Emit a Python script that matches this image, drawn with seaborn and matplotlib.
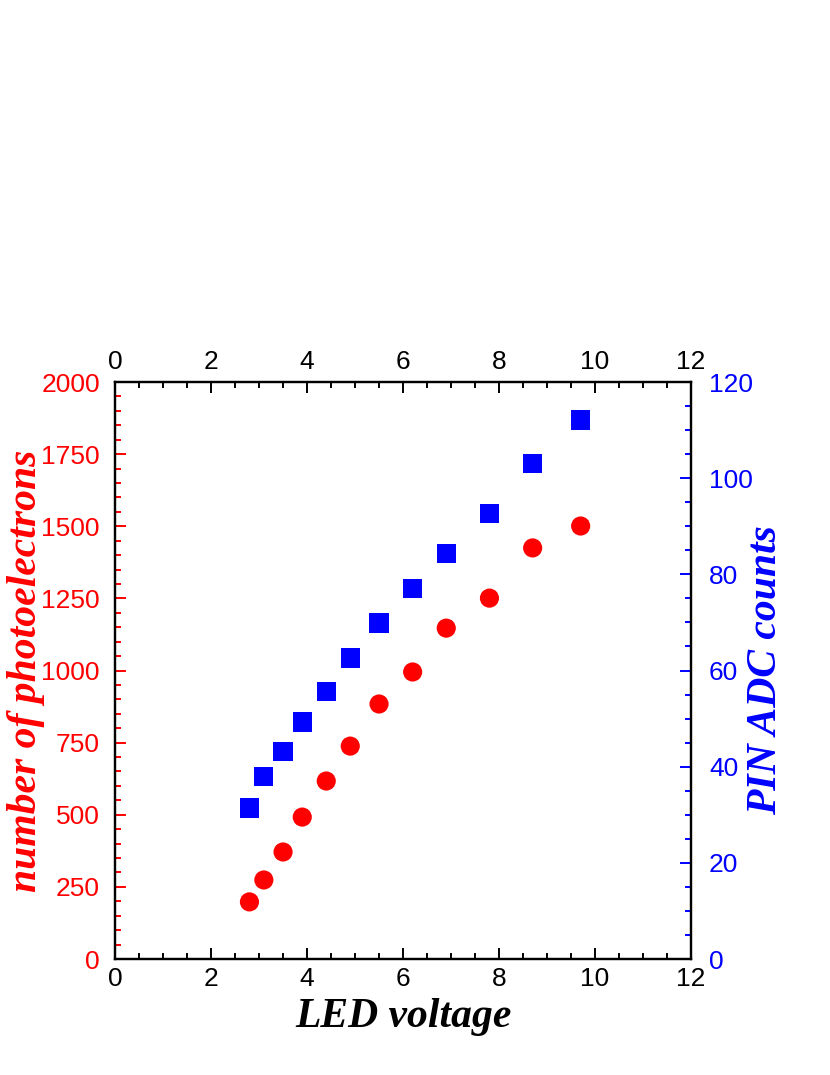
import matplotlib
matplotlib.use("Agg")
import matplotlib.pyplot as plt
from matplotlib.ticker import MultipleLocator
import seaborn as sns
import pandas as pd

# dados
led_voltage = [2.8, 3.1, 3.5, 3.9, 4.4, 4.9, 5.5, 6.2, 6.9, 7.8, 8.7, 9.7]
photoelectrons = [198, 274, 371, 492, 617, 738, 884, 995, 1147, 1251, 1425, 1501]
pin_adc = [31.4, 37.9, 43.1, 49.3, 55.7, 62.6, 69.9, 77.0, 84.4, 92.6, 103.0, 112.1]

df = pd.DataFrame({'LED': led_voltage, 'Npe': photoelectrons, 'PIN': pin_adc})

sns.set_style("white")
plt.rcParams['font.family'] = ['Liberation Sans', 'DejaVu Sans']

fig = plt.figure(figsize=(8.3, 10.75), dpi=100)
ax1 = fig.add_axes([0.1386, 0.1079, 0.6940, 0.5367])
ax2 = ax1.twinx()

sns.scatterplot(data=df, x='LED', y='Npe', ax=ax1, color='red', marker='o',
                s=190, edgecolor='none', zorder=3)
sns.scatterplot(data=df, x='LED', y='PIN', ax=ax2, color='blue', marker='s',
                s=190, edgecolor='none', zorder=3)

ax1.set_xlim(0, 12)
ax1.set_ylim(0, 2000)
ax2.set_ylim(0, 120)

ax1.xaxis.set_major_locator(MultipleLocator(2))
ax1.xaxis.set_minor_locator(MultipleLocator(0.5))
ax1.yaxis.set_major_locator(MultipleLocator(250))
ax1.yaxis.set_minor_locator(MultipleLocator(50))
ax2.yaxis.set_major_locator(MultipleLocator(20))
ax2.yaxis.set_minor_locator(MultipleLocator(5))

for ax in (ax1, ax2):
    for sp in ax.spines.values():
        sp.set_visible(True)
        sp.set_color('black')
        sp.set_linewidth(1.6)

# eixo x embaixo e em cima
ax1.tick_params(axis='x', which='both', direction='in', bottom=True, top=True,
                labelbottom=True, labeltop=True, colors='black', labelsize=19,
                width=1.4, pad=6)
ax1.tick_params(axis='x', which='major', length=8)
ax1.tick_params(axis='x', which='minor', length=4)

ax1.tick_params(axis='y', which='both', direction='in', left=True, right=False,
                colors='red', labelsize=19, width=1.4, pad=11)
ax1.tick_params(axis='y', which='major', length=8)
ax1.tick_params(axis='y', which='minor', length=4)

ax2.tick_params(axis='y', which='both', direction='in', left=False, right=True,
                colors='blue', labelsize=19, width=1.4, pad=13)
ax2.tick_params(axis='y', which='major', length=8)
ax2.tick_params(axis='y', which='minor', length=4)

lab = dict(family='Liberation Serif', fontweight='bold', fontstyle='italic', fontsize=30)
ax1.set_xlabel('LED voltage', color='black', **lab)
ax1.set_ylabel('number of photoelectrons', color='red', **lab)
ax2.set_ylabel('PIN ADC counts', color='blue', **lab)
ax1.xaxis.set_label_coords(0.5, -0.068)
ax1.yaxis.set_label_coords(-0.122, 0.5)
ax2.yaxis.set_label_coords(1.097, 0.5)

fig.savefig('out.png', dpi=100)
